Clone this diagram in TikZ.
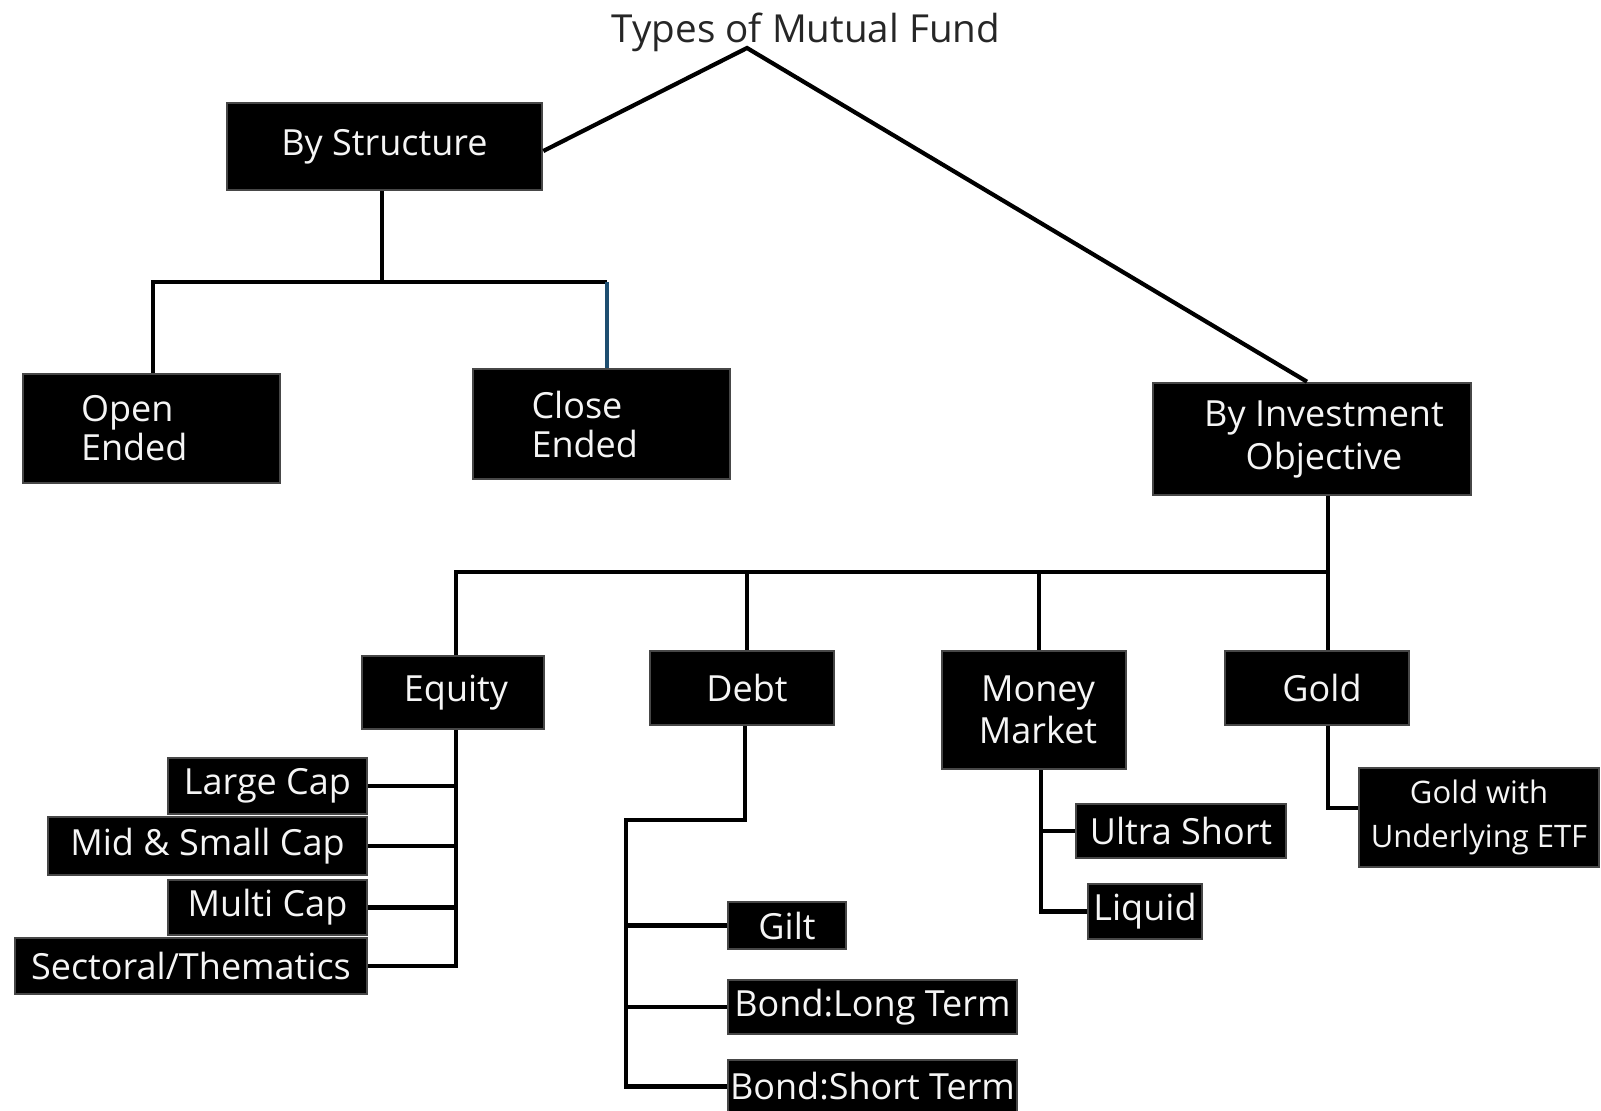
\documentclass[tikz,border=0pt]{standalone}
\usepackage{fontspec}
\setmainfont{Open Sans}
\definecolor{dropblue}{RGB}{30,78,112}
\tikzset{
  box/.style={fill=black, draw=black!72, line width=1.3pt, text=white!96!black,
    inner sep=0pt, align=center, font=\fontsize{18}{21}\selectfont},
  conn/.style={draw=black, line width=2.1pt, line join=miter},
}
% box by its corners (x1,y1)-(x2,y2), in pixel units measured downward
\newcommand\bx[7][]{%
  \node[box,#1,minimum width={(#5-#3)*0.5pt},minimum height={(#6-#4)*0.5pt}]
    (#2) at ({(#3+#5)/2},{(#4+#6)/2}) {#7};}
\begin{document}
\begin{tikzpicture}[x=0.5pt,y=-0.5pt]
\useasboundingbox (0,0) rectangle (1601,1110);
\clip (0,0) rectangle (1601,1110);

% root title
\node[text=black!85, font=\fontsize{19.3}{22}\selectfont, inner sep=0pt] (root) at (806,32) {Types of Mutual Fund};
\coordinate (apex) at (747,48);

% first level
\bx{bs}{227}{103}{542}{190}{By Structure}
\bx[font=\fontsize{18}{21.5}\selectfont]{bio}{1153}{383}{1471}{495}{\hspace*{12pt}By Investment\\\hspace*{12pt}Objective}

% by structure
\bx[align=left,text width=70.5pt,font=\fontsize{18}{19.5}\selectfont]{oe}{23}{374}{280}{483}{Open\\Ended}
\bx[align=left,text width=70pt,font=\fontsize{18}{19.5}\selectfont]{ce}{473}{369}{730}{479}{Close\\Ended}

% by investment objective
\bx{eq}{362}{656}{544}{729}{\hspace*{3pt}Equity}
\bx{db}{650}{651}{834}{725}{\hspace*{5pt}Debt}
\bx{mm}{942}{651}{1126}{769}{\hspace*{4pt}Money\\\hspace*{4pt}Market}
\bx{gd}{1225}{651}{1409}{725}{\hspace*{5pt}Gold}

% equity
\bx{lc}{168}{758}{367}{814}{Large Cap}
\bx{ms}{48}{817}{367}{875}{Mid \& Small Cap}
\bx{mu}{168}{880}{367}{935}{Multi Cap}
\bx{sc}{15}{938}{367}{994}{Sectoral/Thematics}

% debt
\bx{gi}{728}{902}{846}{949}{Gilt}
\bx{bl}{728}{980}{1017}{1034}{Bond:Long Term}
\bx{bt}{728}{1060}{1017}{1113}{Bond:Short Term}

% money market
\bx{us}{1076}{804}{1286}{858}{Ultra Short}
\bx{lq}{1088}{884}{1202}{939}{Liquid}

% gold
\bx[font=\fontsize{15.5}{22}\selectfont]{ge}{1359}{768}{1599}{867}{Gold with\\Underlying ETF}

% stem positions
\coordinate (sbs) at (382,282);
\coordinate (bus) at (1328,572);
\coordinate (x1) at (456,0);
\coordinate (x2) at (747,0);
\coordinate (x3) at (1039,0);
\coordinate (x4) at (1328,0);
\coordinate (dbx) at (745,0);
\coordinate (dbend) at (626,820);
\coordinate (mmx) at (1041,0);
\coordinate (oex) at (153,0);
\coordinate (cex) at (607,0);

% root connectors
\draw[conn] (bs.east |- 0,151) -- (apex) -- (bio.north -| 1307,0);

% structure branch
\draw[conn] (sbs |- bs.south) -- (sbs);
\draw[conn] (oex |- oe.north) |- (sbs) -- (cex |- sbs);
\draw[draw=dropblue, line width=1.7pt] (cex |- sbs) -- (cex |- ce.north);

% objective branch
\draw[conn] (x4 |- bio.south) -- (bus) -- (x1 |- bus) -- (x1 |- eq.north);
\draw[conn] (x2 |- bus) -- (x2 |- db.north);
\draw[conn] (x3 |- bus) -- (x3 |- mm.north);
\draw[conn] (bus) -- (x4 |- gd.north);

% equity children
\draw[conn] (x1 |- eq.south) |- (sc.east);
\draw[conn] (lc.east) -- (lc.east -| x1);
\draw[conn] (ms.east) -- (ms.east -| x1);
\draw[conn] (mu.east) -- (mu.east -| x1);

% debt children
\draw[conn] (dbx |- db.south) |- (dbend) |- (bt.west);
\draw[conn] (gi.west) -- (gi.west -| dbend);
\draw[conn] (bl.west) -- (bl.west -| dbend);

% money market children
\draw[conn] (mmx |- mm.south) |- (lq.west);
\draw[conn] (us.west) -- (us.west -| mmx);

% gold child
\draw[conn] (x4 |- gd.south) |- ([yshift=4.75pt]ge.west);
\end{tikzpicture}
\end{document}
